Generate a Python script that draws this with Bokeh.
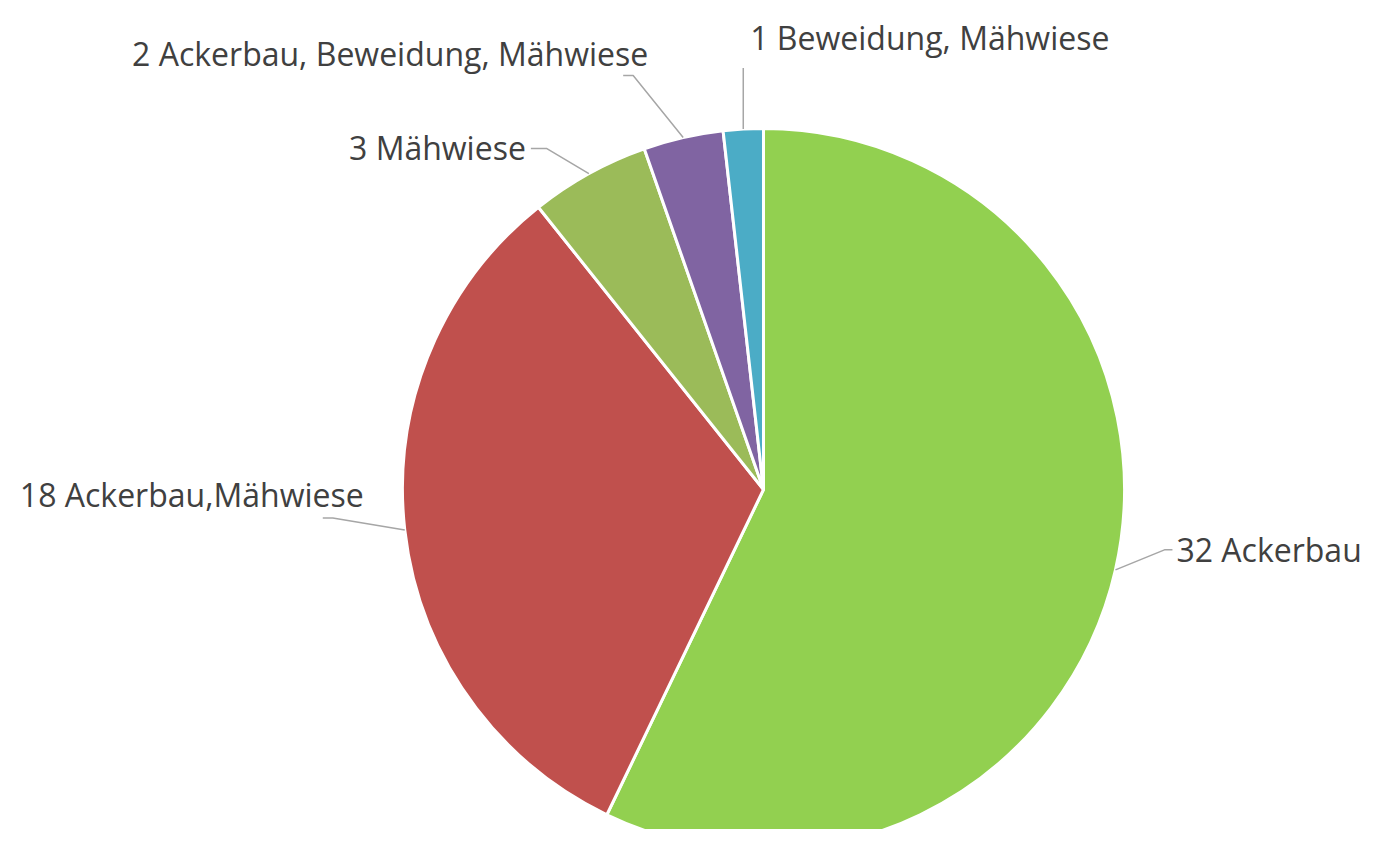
import math
from bokeh.plotting import figure
from bokeh.models import Range1d, ColumnDataSource
from bokeh.core.properties import value
from bokeh.embed import file_html
from bokeh.resources import INLINE

# ---- data ----
categories = ["Ackerbau", "Ackerbau,Mähwiese", "Mähwiese",
              "Ackerbau, Beweidung, Mähwiese", "Beweidung, Mähwiese"]
counts = [32, 18, 3, 2, 1]
colors = ["#92D050", "#C0504D", "#9BBB59", "#8064A2", "#4BACC6"]

# ---- layout (pixel coordinates) ----
W, H = 1364, 829
CX, CY, R = 763, 489, 361
# leader line: elbow offset from arc point, tail length; label offset from tail end, alignment
leader_elbow = [(49, -20), (-72, -12), (-42, -25), (-50, -62), (0, -61)]
leader_tail = [8, -10, -16, -10, 0]
label_off = [(4, 0, "left"), (-131, -23, "center"), (-5, -1, "right"),
             (-233, -22, "center"), (7, -31, "left")]

p = figure(width=W, height=H, output_backend="svg", toolbar_location=None,
           x_range=Range1d(0, W), y_range=Range1d(-H, 0),
           x_axis_type=None, y_axis_type=None, min_border=0,
           outline_line_color=None, background_fill_color="white",
           border_fill_color="white")
p.grid.visible = False

total = sum(counts)
starts, ends, mids = [], [], []
cum = 0.0
for c in counts:
    a1 = cum / total * 360.0
    cum += c
    a2 = cum / total * 360.0
    starts.append(math.radians(90 - a2))
    ends.append(math.radians(90 - a1))
    mids.append((a1 + a2) / 2)

src = ColumnDataSource(dict(start=starts, end=ends, color=colors, cat=categories, n=counts))
p.wedge(x=CX, y=-CY, radius=R, start_angle="start", end_angle="end",
        direction="anticlock", fill_color="color", line_color="white",
        line_width=3, source=src)

xs, ys = [], []
for i, m in enumerate(mids):
    px = CX + R * math.sin(math.radians(m))
    py = CY - R * math.cos(math.radians(m))
    ex, ey = px + leader_elbow[i][0], py + leader_elbow[i][1]
    fx, fy = ex + leader_tail[i], ey
    xs.append([px, ex, fx])
    ys.append([-py, -ey, -fy])
    dx, dy, al = label_off[i]
    p.text(x=[fx + dx], y=[-(fy + dy)], text=[f"{counts[i]} {categories[i]}"],
           text_align=al, text_baseline="alphabetic",
           text_font=value("Open Sans"), text_font_size=value("32px"),
           text_color="#404040")

p.multi_line(xs, ys, line_color="#A6A6A6", line_width=1.5)

open("out.html", "w").write(file_html(p, INLINE))
